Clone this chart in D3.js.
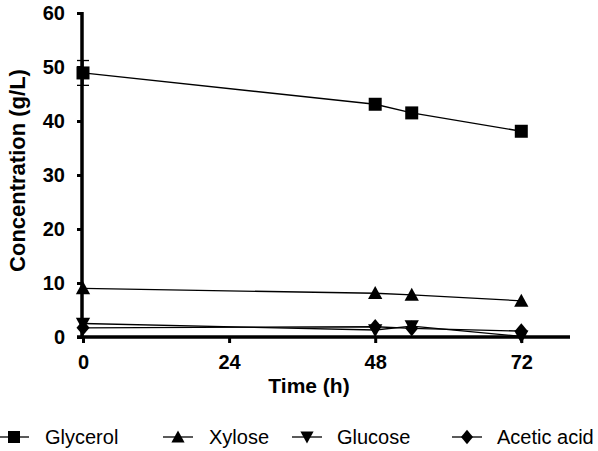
<!DOCTYPE html>
<html><head><meta charset="utf-8">
<script src="https://cdn.jsdelivr.net/npm/d3@7"></script>
<style>body{margin:0;background:#fff}svg{display:block}</style>
</head><body><svg id="c" width="598" height="451"></svg>
<script>
const times = [0, 48, 54, 72];
const glycerol = [48.9, 43.1, 41.5, 38.1];
const xylose = [9.0, 8.1, 7.8, 6.7];
const glucose = [2.5, 1.3, 2.0, 0.1];
const acetic = [1.7, 1.9, 1.6, 1.1];
const glycerolErr = [2.3, 0, 0, 0];
const xTicks = [0, 24, 48, 72];
const yTicks = [0, 10, 20, 30, 40, 50, 60];
const seriesNames = ["Glycerol", "Xylose", "Glucose", "Acetic acid"];

const svg = d3.select("#c");
const x = d3.scaleLinear().domain([0, 80]).range([83, 570]);
const y = d3.scaleLinear().domain([0, 60]).range([337, 13]);
const font = "Liberation Sans, Arial, sans-serif";

const series = [
  {name: seriesNames[0], vals: glycerol, sym: "square"},
  {name: seriesNames[1], vals: xylose, sym: "up"},
  {name: seriesNames[2], vals: glucose, sym: "down"},
  {name: seriesNames[3], vals: acetic, sym: "diamond"}
];

function symPath(sym, s) {
  if (sym === "square") return `M${-s/2},${-s/2}h${s}v${s}h${-s}Z`;
  if (sym === "up") return `M0,${-s*0.55}L${s*0.55},${s*0.45}L${-s*0.55},${s*0.45}Z`;
  if (sym === "down") return `M0,${s*0.55}L${s*0.55},${-s*0.45}L${-s*0.55},${-s*0.45}Z`;
  return `M0,${-s*0.6}L${s*0.5},0L0,${s*0.6}L${-s*0.5},0Z`;
}

const line = d3.line().x((d,i)=>x(times[i])).y(d=>y(d));
series.forEach(s => {
  svg.append("path").attr("d", line(s.vals)).attr("fill","none").attr("stroke","#000").attr("stroke-width",1.3);
});
glycerolErr.forEach((e,i)=>{
  if (!e) return;
  const cx = x(times[i]);
  svg.append("line").attr("x1",cx).attr("x2",cx).attr("y1",y(glycerol[i]+e)).attr("y2",y(glycerol[i]-e)).attr("stroke","#000").attr("stroke-width",1.3);
  [glycerol[i]+e, glycerol[i]-e].forEach(v=>svg.append("line").attr("x1",cx-6).attr("x2",cx+6).attr("y1",y(v)).attr("y2",y(v)).attr("stroke","#000").attr("stroke-width",1.3));
});

const ax = svg.append("g").attr("transform","translate(0,337)")
  .call(d3.axisBottom(x).tickValues(xTicks).tickSize(6).tickPadding(12));
const ay = svg.append("g").attr("transform","translate(82,0)")
  .call(d3.axisLeft(y).tickValues(yTicks).tickSize(5).tickPadding(12));
[ax, ay].forEach(g=>{
  g.select(".domain").attr("stroke-width",3.5).attr("stroke","#000");
  g.selectAll(".tick line").attr("stroke-width",3).attr("stroke","#000");
  g.selectAll("text").attr("font-family",font).attr("font-size",20).attr("font-weight","bold").attr("fill","#000");
});
ax.select(".domain").attr("d","M77,0H570");
ay.select(".domain").attr("d","M0,12V337");

series.forEach(s=>{
  svg.append("g").selectAll("path").data(s.vals).join("path")
    .attr("transform",(d,i)=>`translate(${x(times[i])},${y(d)})`)
    .attr("d", symPath(s.sym, 13)).attr("fill","#000");
});

svg.append("text").attr("x",309).attr("y",393).attr("text-anchor","middle")
  .attr("font-family",font).attr("font-size",21).attr("font-weight","bold").text("Time (h)");
svg.append("text").attr("transform","translate(25,170.5) rotate(-90)").attr("text-anchor","middle")
  .attr("font-family",font).attr("font-size",22).attr("font-weight","bold").text("Concentration (g/L)");

const legCx = [14, 178, 307, 467];
const legTextX = [45, 209, 337, 497];
series.forEach((s,i)=>{
  const ly = 437;
  svg.append("line").attr("x1",legCx[i]-15).attr("x2",legCx[i]+15).attr("y1",ly).attr("y2",ly).attr("stroke","#000").attr("stroke-width",1.3);
  svg.append("path").attr("transform",`translate(${legCx[i]},${ly})`).attr("d",symPath(s.sym,12)).attr("fill","#000");
  svg.append("text").attr("x",legTextX[i]).attr("y",ly+7).attr("font-family",font).attr("font-size",20).text(s.name);
});
</script></body></html>
